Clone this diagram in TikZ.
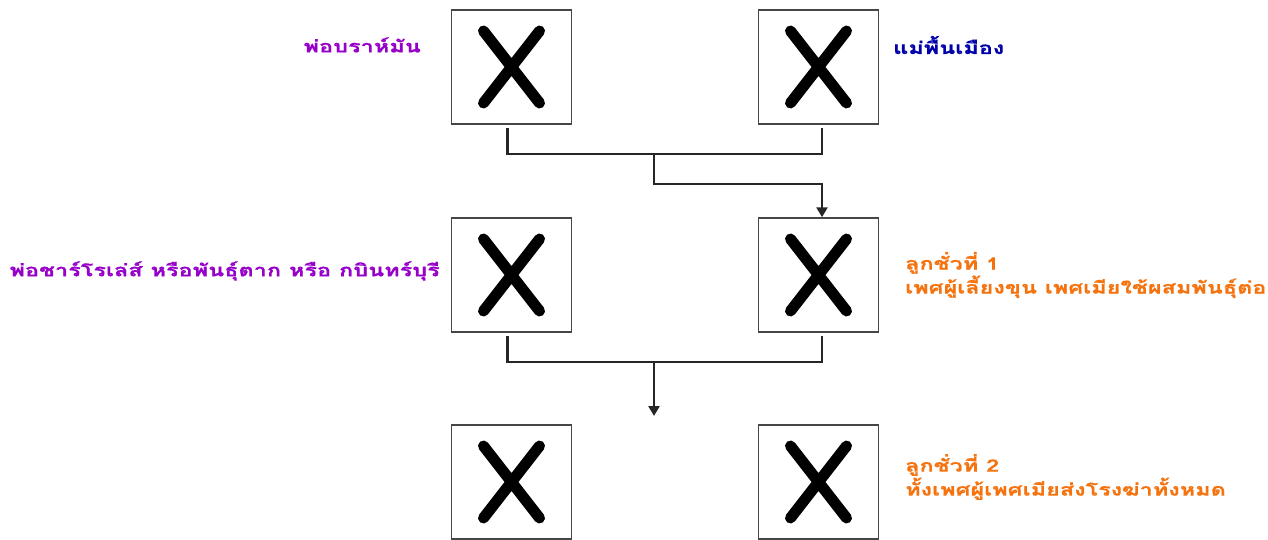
\documentclass[tikz,border=0pt]{standalone}
\usepackage{fontspec}
\newfontfamily\thai[Script=Thai,FakeStretch=1.38,FakeBold=0.6]{Loma}
\usetikzlibrary{arrows.meta}
\definecolor{tpurple}{RGB}{150,0,200}
\definecolor{tblue}{RGB}{0,0,170}
\definecolor{torange}{RGB}{245,115,15}
\definecolor{boxline}{RGB}{70,70,70}
\begin{document}
\begin{tikzpicture}[x=1pt,y=-1pt,
  cell/.style={draw=boxline,line width=1.5pt,minimum width=120pt,minimum height=114pt,inner sep=0pt,fill=white,
    path picture={\draw[line width=11pt,line cap=round,black]
       ([xshift=-28pt,yshift=36pt]path picture bounding box.center) -- ([xshift=28pt,yshift=-36pt]path picture bounding box.center)
       ([xshift=-28pt,yshift=-36pt]path picture bounding box.center) -- ([xshift=28pt,yshift=36pt]path picture bounding box.center);}},
  conn/.style={draw=black!85,line width=2.6pt},
  arr/.style={-{Triangle[width=11pt,length=10pt]}},
  lbl/.style={font=\thai\bfseries\fontsize{17}{24}\selectfont,inner sep=0pt,align=left}]
\useasboundingbox (0,0) rectangle (1268,540);
\node[cell] (p1) at (511.5,67) {};
\node[cell] (p2) at (818.5,67) {};
\node[cell] (m1) at (511.5,275) {};
\node[cell] (m2) at (818.5,275) {};
\node[cell] (b1) at (511.5,482) {};
\node[cell] (b2) at (818.5,482) {};
\coordinate (j1) at (654,154);
\coordinate (j2) at (654,184);
\coordinate (j3) at (654,362);
\coordinate (t3) at (654,416);
\draw[conn] ([xshift=-4pt,yshift=-3pt]p1.south) |- (j1) -| ([xshift=3.5pt,yshift=-3pt]p2.south);
\draw[conn,arr] (j1) |- (j2) -| ([xshift=3.5pt]m2.north);
\draw[conn] ([xshift=-4pt,yshift=-3pt]m1.south) |- (j3) -| ([xshift=3.5pt,yshift=-3pt]m2.south);
\draw[conn,arr] (j3) -- (t3);
\node[lbl,text=tpurple,anchor=east] (l1) at (421,45) {พ่อบราห์มัน};
\node[lbl,text=tblue,anchor=west] (l2) at (893,45) {แม่พื้นเมือง};
\node[lbl,text=tpurple,anchor=east] (l3) at (440,271) {พ่อชาร์โรเล่ส์ หรือพันธุ์ตาก หรือ กบินทร์บุรี};
\node[lbl,text=torange,anchor=west] (l4) at (905,275) {ลูกชั่วที่ 1\\เพศผู้เลี้ยงขุน เพศเมียใช้ผสมพันธุ์ต่อ};
\node[lbl,text=torange,anchor=west] (l5) at (905,477) {ลูกชั่วที่ 2\\ทั้งเพศผู้เพศเมียส่งโรงฆ่าทั้งหมด};
\end{tikzpicture}
\end{document}
